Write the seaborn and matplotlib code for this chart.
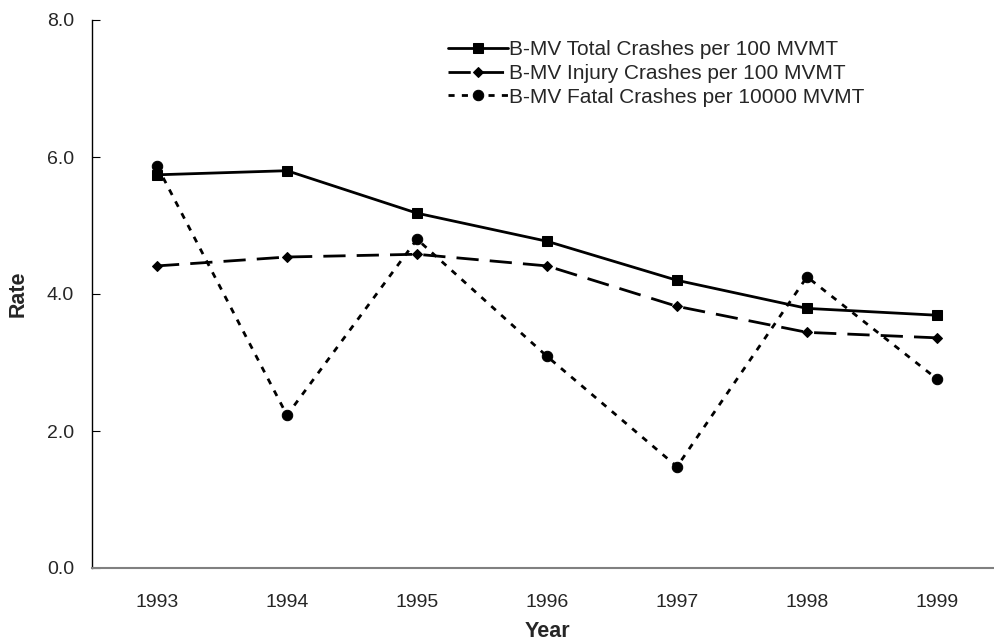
import pandas as pd
import numpy as np
import matplotlib
matplotlib.use("Agg")
import matplotlib.pyplot as plt
import seaborn as sns

# values
years = [1993, 1994, 1995, 1996, 1997, 1998, 1999]
total_rate = [5.74, 5.80, 5.18, 4.77, 4.20, 3.79, 3.69]
injury_rate = [4.41, 4.54, 4.58, 4.41, 3.82, 3.44, 3.36]
fatal_rate = [5.87, 2.23, 4.80, 3.09, 1.48, 4.25, 2.76]

labels = [
    "B-MV Total Crashes per 100 MVMT",
    "B-MV Injury Crashes per 100 MVMT",
    "B-MV Fatal Crashes per 10000 MVMT",
]

df = pd.DataFrame({
    "Year": years * 3,
    "Rate": total_rate + injury_rate + fatal_rate,
    "Series": [labels[0]] * 7 + [labels[1]] * 7 + [labels[2]] * 7,
})

sns.set_style("white")
plt.rcParams["font.family"] = ["Liberation Sans", "DejaVu Sans"]

fig = plt.figure(figsize=(9.94, 6.41), dpi=100)
ax = fig.add_axes([92 / 994, 73 / 641, 910 / 994, 548 / 641])

styles = {
    labels[0]: dict(marker="s", ms=7.5, dashes=None),
    labels[1]: dict(marker="D", ms=5.5, dashes=(8, 4)),
    labels[2]: dict(marker="o", ms=7.5, dashes=(2.2, 2.6)),
}

for name in labels:
    st = styles[name]
    sub = df[df["Series"] == name]
    sns.lineplot(data=sub, x="Year", y="Rate", ax=ax, label=name,
                 color="black", lw=2.0, marker=st["marker"], markersize=st["ms"],
                 markeredgecolor="black", markerfacecolor="black")
    if st["dashes"] is not None:
        ax.lines[-1].set_dashes(st["dashes"])

ax.set_xlim(1992.5, 1999.5)
ax.set_ylim(0, 8)
ax.set_yticks([0, 2, 4, 6, 8])
ax.set_yticklabels([f"{v:.1f}" for v in [0, 2, 4, 6, 8]], fontsize=14)
ax.set_xticks(years)
ax.set_xticklabels([str(y) for y in years], fontsize=14)
ax.set_xticks([y + 0.5 for y in years[:-1]], minor=True)
ax.tick_params(axis="x", which="major", length=0, pad=19)
ax.tick_params(axis="x", which="minor", direction="in", length=6, width=0.8, color="black")
ax.tick_params(axis="y", which="major", direction="in", length=6, width=0.8,
               color="black", pad=13, left=True)

for side in ["top", "right"]:
    ax.spines[side].set_visible(False)
ax.spines["left"].set_color("black")
ax.spines["left"].set_linewidth(1.0)
ax.spines["bottom"].set_color("#808080")
ax.spines["bottom"].set_linewidth(1.5)

ax.set_xlabel("Year", fontsize=15.5, fontweight="bold", labelpad=7)
ax.set_ylabel("Rate", fontsize=15.5, fontweight="bold", labelpad=13)

leg = ax.legend(loc="upper left", bbox_to_anchor=(438 / 994, 1 - 30 / 641),
                bbox_transform=fig.transFigure, frameon=False, fontsize=15,
                handlelength=2.85, handletextpad=0.05, labelspacing=0.22, borderpad=0)

plt.savefig("out.png", dpi=100)
